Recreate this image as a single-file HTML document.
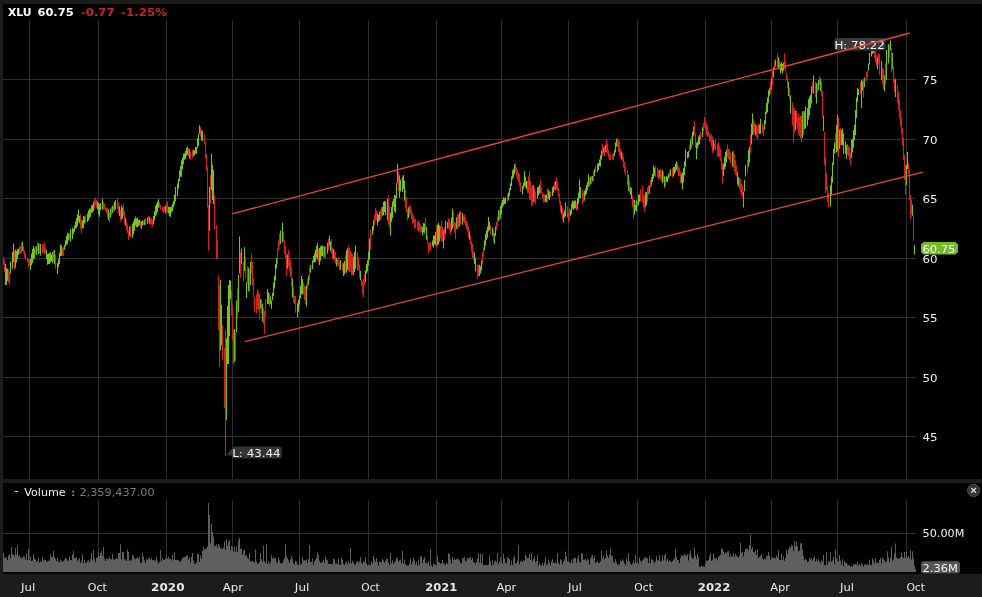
<!DOCTYPE html><html><head><meta charset="utf-8"><title>XLU</title><style>html,body{margin:0;padding:0;background:#1c1c1c;}body{width:982px;height:597px;overflow:hidden;}svg{display:block;font-family:"DejaVu Sans","Liberation Sans",sans-serif;}</style></head><body>
<svg width="982" height="597" viewBox="0 0 982 597">
<rect width="982" height="597" fill="#1c1c1c"/>
<rect x="3" y="4" width="979" height="475" fill="#000"/>
<rect x="3" y="483" width="979" height="91" fill="#000"/>
<path d="M3 79.5H916M3 139.5H916M3 198.5H916M3 258.5H916M3 317.5H916M3 377.5H916M3 436.5H916M29.5 20V479M98.5 20V479M166.5 20V479M232.5 20V479M299.5 20V479M368.5 20V479M436.5 20V479M501.5 20V479M568.5 20V479M637.5 20V479M705.5 20V479M771.5 20V479M837.5 20V479M906.5 20V479M3 533.5H916M29.5 500V572M98.5 500V572M166.5 500V572M232.5 500V572M299.5 500V572M368.5 500V572M436.5 500V572M501.5 500V572M568.5 500V572M637.5 500V572M705.5 500V572M771.5 500V572M837.5 500V572M906.5 500V572" stroke="#2e2e2e" stroke-width="1" fill="none"/>
<path d="M3 572L3 552.8L4 552.8L4 557.5L5 557.5L5 558.1L6 558.1L6 557.5L7 557.5L7 560.1L8 560.1L8 555.4L9 555.4L9 554.2L10 554.2L10 557.9L11 557.9L11 547.0L12 547.0L12 554.2L13 554.2L13 554.6L14 554.6L14 556.3L15 556.3L15 547.9L16 547.9L16 554.6L17 554.6L17 545.6L18 545.6L18 556.6L19 556.6L19 555.3L20 555.3L20 557.3L21 557.3L21 558.3L22 558.3L22 557.8L23 557.8L23 556.2L24 556.2L24 556.9L25 556.9L25 559.4L26 559.4L26 553.6L27 553.6L27 559.7L28 559.7L28 549.0L29 549.0L29 560.0L30 560.0L30 556.8L31 556.8L31 561.1L32 561.1L32 560.8L33 560.8L33 554.3L34 554.3L34 558.3L35 558.3L35 559.5L36 559.5L36 562.0L37 562.0L37 560.9L38 560.9L38 558.1L39 558.1L39 562.6L40 562.6L40 561.2L41 561.2L41 561.7L42 561.7L42 557.1L43 557.1L43 560.9L44 560.9L44 559.7L45 559.7L45 559.7L46 559.7L46 561.9L47 561.9L47 561.2L48 561.2L48 560.8L49 560.8L49 560.4L50 560.4L50 554.3L51 554.3L51 557.2L52 557.2L52 557.0L53 557.0L53 551.0L54 551.0L54 557.2L55 557.2L55 559.1L56 559.1L56 561.2L57 561.2L57 558.0L58 558.0L58 561.7L59 561.7L59 562.3L60 562.3L60 559.8L61 559.8L61 560.7L62 560.7L62 562.1L63 562.1L63 561.1L64 561.1L64 559.6L65 559.6L65 557.8L66 557.8L66 558.6L67 558.6L67 560.7L68 560.7L68 560.5L69 560.5L69 556.6L70 556.6L70 560.1L71 560.1L71 560.3L72 560.3L72 554.8L73 554.8L73 551.1L74 551.1L74 558.1L75 558.1L75 557.8L76 557.8L76 557.5L77 557.5L77 560.8L78 560.8L78 559.4L79 559.4L79 557.9L80 557.9L80 562.9L81 562.9L81 560.6L82 560.6L82 554.1L83 554.1L83 562.9L84 562.9L84 559.7L85 559.7L85 562.6L86 562.6L86 562.8L87 562.8L87 560.7L88 560.7L88 560.2L89 560.2L89 562.2L90 562.2L90 558.8L91 558.8L91 553.1L92 553.1L92 560.4L93 560.4L93 550.0L94 550.0L94 558.4L95 558.4L95 562.3L96 562.3L96 557.8L97 557.8L97 557.6L98 557.6L98 552.3L99 552.3L99 556.1L100 556.1L100 553.0L101 553.0L101 551.0L102 551.0L102 555.8L103 555.8L103 546.9L104 546.9L104 558.8L105 558.8L105 561.1L106 561.1L106 558.8L107 558.8L107 558.4L108 558.4L108 559.3L109 559.3L109 556.7L110 556.7L110 559.0L111 559.0L111 559.6L112 559.6L112 553.8L113 553.8L113 558.7L114 558.7L114 560.3L115 560.3L115 558.9L116 558.9L116 557.8L117 557.8L117 558.8L118 558.8L118 553.0L119 553.0L119 553.0L120 553.0L120 544.1L121 544.1L121 559.3L122 559.3L122 551.9L123 551.9L123 552.2L124 552.2L124 559.3L125 559.3L125 559.4L126 559.4L126 561.0L127 561.0L127 549.5L128 549.5L128 551.8L129 551.8L129 560.7L130 560.7L130 560.2L131 560.2L131 560.4L132 560.4L132 555.2L133 555.2L133 555.7L134 555.7L134 557.9L135 557.9L135 559.3L136 559.3L136 558.2L137 558.2L137 557.1L138 557.1L138 558.4L139 558.4L139 556.6L140 556.6L140 562.7L141 562.7L141 562.7L142 562.7L142 553.0L143 553.0L143 556.6L144 556.6L144 560.8L145 560.8L145 562.9L146 562.9L146 558.5L147 558.5L147 559.9L148 559.9L148 558.6L149 558.6L149 557.4L150 557.4L150 559.5L151 559.5L151 558.2L152 558.2L152 559.9L153 559.9L153 560.0L154 560.0L154 560.7L155 560.7L155 560.2L156 560.2L156 556.7L157 556.7L157 561.5L158 561.5L158 563.6L159 563.6L159 562.1L160 562.1L160 550.0L161 550.0L161 561.3L162 561.3L162 558.2L163 558.2L163 559.4L164 559.4L164 560.0L165 560.0L165 558.4L166 558.4L166 556.5L167 556.5L167 559.0L168 559.0L168 556.8L169 556.8L169 559.1L170 559.1L170 558.6L171 558.6L171 560.4L172 560.4L172 554.8L173 554.8L173 559.5L174 559.5L174 551.9L175 551.9L175 560.1L176 560.1L176 559.8L177 559.8L177 560.1L178 560.1L178 560.3L179 560.3L179 561.5L180 561.5L180 561.8L181 561.8L181 559.8L182 559.8L182 557.5L183 557.5L183 557.8L184 557.8L184 557.1L185 557.1L185 557.1L186 557.1L186 555.0L187 555.0L187 556.0L188 556.0L188 559.5L189 559.5L189 557.3L190 557.3L190 562.5L191 562.5L191 557.1L192 557.1L192 553.0L193 553.0L193 560.4L194 560.4L194 563.6L195 563.6L195 563.8L196 563.8L196 562.6L197 562.6L197 553.7L198 553.7L198 553.9L199 553.9L199 561.9L200 561.9L200 555.5L201 555.5L201 558.7L202 558.7L202 550.7L203 550.7L203 547.0L204 547.0L204 549.7L205 549.7L205 548.9L206 548.9L206 548.3L207 548.3L207 546.6L208 546.6L208 503.0L209 503.0L209 515.0L210 515.0L210 543.4L211 543.4L211 523.5L212 523.5L212 532.0L213 532.0L213 536.9L214 536.9L214 546.5L215 546.5L215 545.4L216 545.4L216 544.5L217 544.5L217 547.3L218 547.3L218 544.1L219 544.1L219 545.5L220 545.5L220 547.9L221 547.9L221 548.8L222 548.8L222 549.1L223 549.1L223 547.3L224 547.3L224 541.2L225 541.2L225 549.7L226 549.7L226 538.9L227 538.9L227 545.6L228 545.6L228 542.0L229 542.0L229 539.9L230 539.9L230 550.1L231 550.1L231 546.1L232 546.1L232 547.5L233 547.5L233 551.4L234 551.4L234 546.5L235 546.5L235 551.7L236 551.7L236 546.5L237 546.5L237 551.9L238 551.9L238 540.8L239 540.8L239 538.0L240 538.0L240 548.9L241 548.9L241 548.2L242 548.2L242 554.4L243 554.4L243 551.0L244 551.0L244 549.7L245 549.7L245 555.7L246 555.7L246 555.3L247 555.3L247 557.7L248 557.7L248 558.9L249 558.9L249 553.3L250 553.3L250 561.5L251 561.5L251 560.9L252 560.9L252 560.8L253 560.8L253 562.0L254 562.0L254 562.4L255 562.4L255 549.5L256 549.5L256 561.3L257 561.3L257 563.5L258 563.5L258 563.7L259 563.7L259 561.9L260 561.9L260 552.9L261 552.9L261 559.3L262 559.3L262 561.7L263 561.7L263 546.0L264 546.0L264 561.2L265 561.2L265 562.7L266 562.7L266 544.0L267 544.0L267 564.1L268 564.1L268 560.9L269 560.9L269 563.5L270 563.5L270 562.3L271 562.3L271 555.3L272 555.3L272 558.7L273 558.7L273 556.8L274 556.8L274 558.5L275 558.5L275 558.1L276 558.1L276 561.7L277 561.7L277 562.9L278 562.9L278 557.4L279 557.4L279 560.4L280 560.4L280 563.1L281 563.1L281 563.7L282 563.7L282 562.7L283 562.7L283 560.6L284 560.6L284 558.1L285 558.1L285 544.0L286 544.0L286 555.4L287 555.4L287 558.2L288 558.2L288 560.6L289 560.6L289 562.8L290 562.8L290 559.5L291 559.5L291 556.3L292 556.3L292 558.7L293 558.7L293 563.3L294 563.3L294 564.3L295 564.3L295 560.7L296 560.7L296 561.8L297 561.8L297 564.6L298 564.6L298 564.9L299 564.9L299 556.8L300 556.8L300 564.3L301 564.3L301 563.7L302 563.7L302 556.9L303 556.9L303 560.4L304 560.4L304 560.2L305 560.2L305 560.7L306 560.7L306 559.2L307 559.2L307 563.1L308 563.1L308 559.2L309 559.2L309 545.0L310 545.0L310 562.0L311 562.0L311 562.1L312 562.1L312 558.6L313 558.6L313 565.0L314 565.0L314 561.0L315 561.0L315 559.4L316 559.4L316 557.7L317 557.7L317 552.4L318 552.4L318 555.0L319 555.0L319 560.8L320 560.8L320 562.7L321 562.7L321 562.4L322 562.4L322 561.7L323 561.7L323 559.8L324 559.8L324 563.0L325 563.0L325 557.0L326 557.0L326 559.2L327 559.2L327 560.2L328 560.2L328 564.0L329 564.0L329 563.5L330 563.5L330 564.0L331 564.0L331 564.2L332 564.2L332 563.4L333 563.4L333 558.5L334 558.5L334 559.2L335 559.2L335 563.4L336 563.4L336 563.2L337 563.2L337 564.5L338 564.5L338 558.8L339 558.8L339 564.5L340 564.5L340 565.0L341 565.0L341 558.0L342 558.0L342 559.9L343 559.9L343 564.0L344 564.0L344 565.0L345 565.0L345 562.7L346 562.7L346 561.5L347 561.5L347 564.3L348 564.3L348 561.1L349 561.1L349 563.4L350 563.4L350 548.0L351 548.0L351 563.3L352 563.3L352 561.1L353 561.1L353 562.5L354 562.5L354 564.4L355 564.4L355 564.2L356 564.2L356 561.8L357 561.8L357 560.9L358 560.9L358 562.7L359 562.7L359 561.3L360 561.3L360 557.3L361 557.3L361 562.4L362 562.4L362 563.8L363 563.8L363 561.0L364 561.0L364 562.6L365 562.6L365 557.2L366 557.2L366 563.1L367 563.1L367 565.2L368 565.2L368 565.2L369 565.2L369 564.5L370 564.5L370 564.9L371 564.9L371 561.2L372 561.2L372 563.6L373 563.6L373 556.0L374 556.0L374 559.3L375 559.3L375 561.7L376 561.7L376 558.1L377 558.1L377 561.6L378 561.6L378 565.4L379 565.4L379 561.6L380 561.6L380 562.1L381 562.1L381 562.6L382 562.6L382 559.1L383 559.1L383 560.4L384 560.4L384 562.7L385 562.7L385 561.0L386 561.0L386 559.1L387 559.1L387 558.8L388 558.8L388 562.4L389 562.4L389 565.2L390 565.2L390 553.1L391 553.1L391 563.6L392 563.6L392 560.3L393 560.3L393 563.7L394 563.7L394 562.3L395 562.3L395 560.7L396 560.7L396 558.6L397 558.6L397 557.4L398 557.4L398 561.5L399 561.5L399 560.2L400 560.2L400 559.6L401 559.6L401 563.3L402 563.3L402 551.0L403 551.0L403 563.7L404 563.7L404 559.5L405 559.5L405 564.1L406 564.1L406 565.2L407 565.2L407 565.5L408 565.5L408 565.5L409 565.5L409 563.2L410 563.2L410 558.7L411 558.7L411 564.4L412 564.4L412 561.9L413 561.9L413 557.7L414 557.7L414 560.3L415 560.3L415 564.6L416 564.6L416 561.4L417 561.4L417 565.6L418 565.6L418 559.4L419 559.4L419 565.1L420 565.1L420 556.2L421 556.2L421 556.4L422 556.4L422 563.1L423 563.1L423 559.5L424 559.5L424 556.9L425 556.9L425 562.8L426 562.8L426 562.6L427 562.6L427 563.6L428 563.6L428 561.1L429 561.1L429 566.0L430 566.0L430 549.0L431 549.0L431 565.2L432 565.2L432 566.8L433 566.8L433 563.6L434 563.6L434 564.4L435 564.4L435 564.3L436 564.3L436 566.0L437 566.0L437 555.6L438 555.6L438 561.5L439 561.5L439 562.5L440 562.5L440 564.1L441 564.1L441 562.9L442 562.9L442 559.7L443 559.7L443 563.0L444 563.0L444 564.5L445 564.5L445 564.4L446 564.4L446 562.6L447 562.6L447 563.9L448 563.9L448 553.2L449 553.2L449 554.0L450 554.0L450 559.6L451 559.6L451 563.4L452 563.4L452 556.9L453 556.9L453 559.9L454 559.9L454 558.2L455 558.2L455 560.1L456 560.1L456 559.2L457 559.2L457 558.5L458 558.5L458 559.2L459 559.2L459 560.8L460 560.8L460 562.4L461 562.4L461 563.5L462 563.5L462 558.1L463 558.1L463 558.4L464 558.4L464 557.3L465 557.3L465 561.4L466 561.4L466 560.5L467 560.5L467 557.8L468 557.8L468 558.8L469 558.8L469 557.9L470 557.9L470 557.1L471 557.1L471 559.9L472 559.9L472 557.7L473 557.7L473 562.0L474 562.0L474 562.6L475 562.6L475 564.2L476 564.2L476 562.0L477 562.0L477 558.6L478 558.6L478 552.9L479 552.9L479 562.8L480 562.8L480 553.5L481 553.5L481 563.1L482 563.1L482 554.0L483 554.0L483 565.4L484 565.4L484 565.1L485 565.1L485 565.1L486 565.1L486 564.9L487 564.9L487 565.2L488 565.2L488 564.5L489 564.5L489 555.2L490 555.2L490 561.1L491 561.1L491 565.5L492 565.5L492 560.0L493 560.0L493 565.1L494 565.1L494 561.6L495 561.6L495 560.6L496 560.6L496 562.2L497 562.2L497 553.2L498 553.2L498 563.8L499 563.8L499 561.7L500 561.7L500 556.9L501 556.9L501 562.2L502 562.2L502 563.8L503 563.8L503 554.0L504 554.0L504 558.6L505 558.6L505 563.0L506 563.0L506 562.7L507 562.7L507 557.0L508 557.0L508 558.2L509 558.2L509 559.0L510 559.0L510 565.0L511 565.0L511 560.5L512 560.5L512 565.1L513 565.1L513 558.1L514 558.1L514 556.0L515 556.0L515 563.8L516 563.8L516 563.0L517 563.0L517 560.7L518 560.7L518 545.5L519 545.5L519 564.2L520 564.2L520 561.2L521 561.2L521 561.2L522 561.2L522 561.9L523 561.9L523 560.2L524 560.2L524 561.1L525 561.1L525 554.9L526 554.9L526 556.5L527 556.5L527 558.4L528 558.4L528 557.9L529 557.9L529 553.9L530 553.9L530 560.1L531 560.1L531 553.2L532 553.2L532 561.1L533 561.1L533 558.8L534 558.8L534 556.4L535 556.4L535 562.2L536 562.2L536 561.1L537 561.1L537 554.8L538 554.8L538 565.4L539 565.4L539 562.5L540 562.5L540 564.9L541 564.9L541 565.4L542 565.4L542 563.0L543 563.0L543 565.5L544 565.5L544 562.6L545 562.6L545 557.3L546 557.3L546 564.9L547 564.9L547 564.2L548 564.2L548 559.6L549 559.6L549 562.7L550 562.7L550 565.2L551 565.2L551 561.4L552 561.4L552 559.2L553 559.2L553 563.0L554 563.0L554 563.2L555 563.2L555 562.0L556 562.0L556 563.6L557 563.6L557 553.0L558 553.0L558 562.3L559 562.3L559 564.6L560 564.6L560 559.2L561 559.2L561 560.2L562 560.2L562 564.6L563 564.6L563 561.7L564 561.7L564 559.2L565 559.2L565 551.6L566 551.6L566 556.6L567 556.6L567 561.3L568 561.3L568 561.2L569 561.2L569 562.7L570 562.7L570 562.5L571 562.5L571 559.2L572 559.2L572 563.2L573 563.2L573 558.4L574 558.4L574 558.1L575 558.1L575 557.7L576 557.7L576 562.7L577 562.7L577 558.3L578 558.3L578 555.2L579 555.2L579 561.7L580 561.7L580 562.5L581 562.5L581 553.0L582 553.0L582 553.4L583 553.4L583 559.8L584 559.8L584 559.4L585 559.4L585 559.2L586 559.2L586 561.0L587 561.0L587 558.3L588 558.3L588 559.9L589 559.9L589 564.7L590 564.7L590 558.3L591 558.3L591 556.4L592 556.4L592 555.0L593 555.0L593 558.5L594 558.5L594 556.1L595 556.1L595 562.8L596 562.8L596 562.2L597 562.2L597 561.0L598 561.0L598 562.9L599 562.9L599 562.8L600 562.8L600 561.2L601 561.2L601 550.3L602 550.3L602 558.2L603 558.2L603 555.7L604 555.7L604 559.3L605 559.3L605 557.7L606 557.7L606 550.9L607 550.9L607 555.7L608 555.7L608 557.9L609 557.9L609 554.9L610 554.9L610 548.5L611 548.5L611 555.6L612 555.6L612 556.3L613 556.3L613 561.4L614 561.4L614 563.1L615 563.1L615 558.7L616 558.7L616 562.6L617 562.6L617 564.8L618 564.8L618 564.3L619 564.3L619 564.7L620 564.7L620 560.8L621 560.8L621 561.5L622 561.5L622 559.3L623 559.3L623 560.8L624 560.8L624 563.2L625 563.2L625 564.7L626 564.7L626 557.8L627 557.8L627 561.6L628 561.6L628 553.0L629 553.0L629 561.2L630 561.2L630 564.1L631 564.1L631 564.8L632 564.8L632 563.5L633 563.5L633 560.3L634 560.3L634 563.3L635 563.3L635 554.8L636 554.8L636 563.1L637 563.1L637 561.2L638 561.2L638 563.8L639 563.8L639 557.4L640 557.4L640 560.8L641 560.8L641 562.3L642 562.3L642 560.5L643 560.5L643 559.3L644 559.3L644 557.6L645 557.6L645 557.3L646 557.3L646 557.8L647 557.8L647 558.2L648 558.2L648 563.1L649 563.1L649 555.5L650 555.5L650 563.2L651 563.2L651 558.9L652 558.9L652 559.7L653 559.7L653 561.0L654 561.0L654 563.3L655 563.3L655 561.5L656 561.5L656 556.1L657 556.1L657 560.1L658 560.1L658 560.6L659 560.6L659 555.0L660 555.0L660 561.7L661 561.7L661 560.8L662 560.8L662 555.6L663 555.6L663 560.6L664 560.6L664 555.6L665 555.6L665 553.6L666 553.6L666 561.1L667 561.1L667 559.1L668 559.1L668 562.1L669 562.1L669 560.4L670 560.4L670 561.1L671 561.1L671 562.4L672 562.4L672 561.0L673 561.0L673 559.7L674 559.7L674 558.6L675 558.6L675 549.0L676 549.0L676 556.7L677 556.7L677 560.2L678 560.2L678 560.1L679 560.1L679 563.1L680 563.1L680 557.8L681 557.8L681 554.8L682 554.8L682 555.7L683 555.7L683 556.0L684 556.0L684 553.7L685 553.7L685 555.3L686 555.3L686 555.8L687 555.8L687 554.3L688 554.3L688 560.4L689 560.4L689 554.0L690 554.0L690 550.8L691 550.8L691 556.5L692 556.5L692 558.9L693 558.9L693 557.8L694 557.8L694 547.6L695 547.6L695 555.8L696 555.8L696 558.9L697 558.9L697 554.0L698 554.0L698 556.7L699 556.7L699 566.8L700 566.8L700 566.9L701 566.9L701 565.4L702 565.4L702 566.5L703 566.5L703 566.3L704 566.3L704 566.8L705 566.8L705 563.4L706 563.4L706 560.5L707 560.5L707 560.7L708 560.7L708 560.2L709 560.2L709 556.3L710 556.3L710 553.2L711 553.2L711 560.8L712 560.8L712 559.5L713 559.5L713 553.4L714 553.4L714 557.4L715 557.4L715 558.7L716 558.7L716 557.8L717 557.8L717 560.5L718 560.5L718 556.8L719 556.8L719 555.8L720 555.8L720 554.4L721 554.4L721 548.5L722 548.5L722 548.6L723 548.6L723 551.4L724 551.4L724 554.1L725 554.1L725 552.5L726 552.5L726 553.4L727 553.4L727 551.6L728 551.6L728 551.1L729 551.1L729 556.9L730 556.9L730 554.1L731 554.1L731 556.8L732 556.8L732 556.2L733 556.2L733 552.9L734 552.9L734 556.8L735 556.8L735 553.9L736 553.9L736 555.4L737 555.4L737 556.8L738 556.8L738 557.5L739 557.5L739 555.6L740 555.6L740 542.6L741 542.6L741 552.8L742 552.8L742 551.5L743 551.5L743 556.6L744 556.6L744 551.8L745 551.8L745 549.1L746 549.1L746 548.7L747 548.7L747 548.5L748 548.5L748 550.5L749 550.5L749 545.0L750 545.0L750 534.7L751 534.7L751 549.2L752 549.2L752 547.0L753 547.0L753 552.1L754 552.1L754 552.5L755 552.5L755 549.8L756 549.8L756 554.9L757 554.9L757 549.6L758 549.6L758 558.0L759 558.0L759 556.8L760 556.8L760 555.7L761 555.7L761 554.1L762 554.1L762 558.3L763 558.3L763 559.5L764 559.5L764 558.4L765 558.4L765 559.6L766 559.6L766 555.5L767 555.5L767 556.2L768 556.2L768 552.0L769 552.0L769 556.0L770 556.0L770 559.6L771 559.6L771 558.2L772 558.2L772 557.4L773 557.4L773 557.6L774 557.6L774 558.1L775 558.1L775 558.5L776 558.5L776 555.6L777 555.6L777 557.6L778 557.6L778 550.2L779 550.2L779 560.0L780 560.0L780 560.0L781 560.0L781 553.6L782 553.6L782 560.3L783 560.3L783 556.5L784 556.5L784 560.7L785 560.7L785 557.8L786 557.8L786 549.4L787 549.4L787 553.5L788 553.5L788 549.7L789 549.7L789 546.7L790 546.7L790 547.6L791 547.6L791 544.7L792 544.7L792 545.5L793 545.5L793 551.1L794 551.1L794 540.8L795 540.8L795 546.0L796 546.0L796 541.5L797 541.5L797 546.2L798 546.2L798 551.2L799 551.2L799 550.6L800 550.6L800 543.3L801 543.3L801 543.5L802 543.5L802 549.6L803 549.6L803 556.3L804 556.3L804 560.2L805 560.2L805 559.0L806 559.0L806 559.7L807 559.7L807 562.2L808 562.2L808 561.9L809 561.9L809 557.5L810 557.5L810 559.5L811 559.5L811 558.3L812 558.3L812 560.8L813 560.8L813 558.3L814 558.3L814 556.1L815 556.1L815 561.6L816 561.6L816 558.9L817 558.9L817 561.2L818 561.2L818 559.1L819 559.1L819 561.2L820 561.2L820 563.2L821 563.2L821 560.2L822 560.2L822 561.6L823 561.6L823 554.9L824 554.9L824 565.3L825 565.3L825 565.2L826 565.2L826 552.1L827 552.1L827 564.8L828 564.8L828 560.7L829 560.7L829 561.7L830 561.7L830 552.5L831 552.5L831 561.7L832 561.7L832 560.4L833 560.4L833 556.9L834 556.9L834 563.8L835 563.8L835 549.6L836 549.6L836 558.5L837 558.5L837 561.6L838 561.6L838 561.5L839 561.5L839 555.1L840 555.1L840 560.4L841 560.4L841 564.6L842 564.6L842 559.2L843 559.2L843 566.3L844 566.3L844 561.1L845 561.1L845 563.0L846 563.0L846 562.8L847 562.8L847 564.8L848 564.8L848 565.3L849 565.3L849 565.4L850 565.4L850 566.6L851 566.6L851 565.9L852 565.9L852 566.8L853 566.8L853 564.2L854 564.2L854 564.6L855 564.6L855 564.1L856 564.1L856 564.8L857 564.8L857 562.3L858 562.3L858 565.5L859 565.5L859 563.8L860 563.8L860 565.8L861 565.8L861 563.2L862 563.2L862 564.8L863 564.8L863 566.7L864 566.7L864 564.5L865 564.5L865 564.0L866 564.0L866 565.0L867 565.0L867 564.3L868 564.3L868 565.0L869 565.0L869 559.5L870 559.5L870 564.7L871 564.7L871 564.8L872 564.8L872 558.6L873 558.6L873 560.4L874 560.4L874 563.4L875 563.4L875 558.3L876 558.3L876 562.5L877 562.5L877 562.4L878 562.4L878 563.2L879 563.2L879 560.0L880 560.0L880 557.8L881 557.8L881 563.5L882 563.5L882 557.6L883 557.6L883 558.9L884 558.9L884 560.5L885 560.5L885 562.3L886 562.3L886 561.3L887 561.3L887 551.3L888 551.3L888 557.3L889 557.3L889 562.0L890 562.0L890 557.6L891 557.6L891 546.5L892 546.5L892 560.8L893 560.8L893 559.2L894 559.2L894 553.6L895 553.6L895 543.6L896 543.6L896 557.3L897 557.3L897 558.5L898 558.5L898 558.6L899 558.6L899 558.6L900 558.6L900 556.9L901 556.9L901 552.8L902 552.8L902 557.0L903 557.0L903 558.0L904 558.0L904 551.9L905 551.9L905 557.5L906 557.5L906 551.4L907 551.4L907 557.6L908 557.6L908 556.3L909 556.3L909 558.6L910 558.6L910 550.0L911 550.0L911 559.5L912 559.5L912 551.3L913 551.3L913 558.3L914 558.3L914 566.0L915 566.0L915 569.0L916 569.0L916 572Z" fill="#5f5f5f"/>
<path d="M5.50 263.9V285.0M6.50 267.7V284.8M7.50 269.0V280.8M10.50 261.3V273.4M12.50 252.1V268.8M13.50 243.5V262.1M15.50 249.5V267.8M16.50 251.1V262.6M17.50 249.0V259.0M18.50 248.4V254.8M22.50 241.7V251.0M30.50 258.7V270.0M31.50 253.6V265.3M32.50 248.9V262.9M33.50 246.0V259.6M34.50 248.4V258.6M36.50 246.4V254.9M38.50 243.3V254.2M40.50 244.0V255.5M46.50 250.0V259.1M47.50 254.1V264.7M48.50 253.8V264.1M49.50 252.9V263.9M50.50 252.5V262.5M51.50 254.6V261.2M52.50 251.9V263.1M54.50 250.0V264.3M57.50 263.0V274.0M58.50 259.2V267.1M59.50 252.8V264.1M60.50 244.5V256.2M61.50 245.5V255.9M64.50 245.1V249.9M65.50 240.2V246.3M66.50 235.8V244.8M67.50 232.8V244.2M68.50 233.5V240.4M70.50 229.1V241.7M72.50 227.6V239.0M73.50 229.0V234.1M74.50 225.6V231.7M75.50 221.6V228.6M76.50 218.0V228.1M77.50 214.4V226.1M78.50 209.5V221.5M79.50 215.9V223.2M82.50 220.2V228.5M83.50 216.1V228.0M84.50 216.5V223.5M87.50 213.5V222.0M88.50 210.4V220.4M89.50 208.4V218.2M90.50 208.8V216.7M91.50 205.2V212.7M92.50 204.8V212.4M93.50 201.7V211.4M97.50 201.4V209.2M98.50 202.9V214.4M99.50 204.2V216.8M100.50 203.0V209.9M102.50 199.0V209.7M108.50 209.3V219.9M110.50 208.5V217.4M112.50 205.8V213.0M114.50 201.7V210.7M115.50 200.2V209.2M119.50 206.3V216.1M121.50 205.3V219.4M122.50 207.6V218.7M125.50 217.7V225.9M129.50 226.4V236.2M132.50 223.7V238.0M133.50 221.5V234.5M134.50 218.9V230.7M135.50 216.8V225.4M136.50 218.5V227.3M137.50 217.6V227.1M138.50 219.9V226.3M139.50 219.4V225.3M141.50 221.3V228.7M142.50 220.6V225.2M144.50 219.6V225.1M147.50 217.4V224.0M149.50 216.8V223.7M153.50 215.9V224.2M154.50 211.3V220.2M155.50 205.8V216.4M156.50 203.4V214.7M157.50 201.4V212.0M158.50 199.3V207.8M165.50 205.5V213.5M168.50 206.7V213.6M169.50 206.8V216.2M170.50 207.2V216.8M171.50 206.4V212.2M172.50 203.8V211.3M173.50 200.8V207.3M174.50 194.7V204.8M175.50 186.9V201.2M177.50 183.4V196.2M178.50 179.1V188.6M179.50 170.5V181.5M180.50 166.1V176.7M181.50 160.3V176.8M182.50 157.6V169.1M183.50 153.7V164.0M184.50 153.3V159.8M185.50 150.9V159.0M186.50 148.0V155.9M187.50 146.4V154.8M189.50 149.2V158.6M193.50 149.9V156.3M194.50 150.5V155.3M195.50 146.9V153.5M196.50 147.0V154.0M197.50 138.0V148.0M198.50 134.0V146.0M199.50 125.3V134.0M201.50 130.0V140.5M202.50 131.0V141.0M209.50 186.8V230.8M211.50 153.5V190.0M212.50 165.0V200.0M213.50 170.0V204.0M220.50 280.0V350.2M221.50 305.0V345.0M226.50 338.5V420.2M227.50 306.0V364.0M228.50 285.0V364.3M229.50 280.0V336.0M230.50 280.5V299.0M234.50 329.0V362.0M236.50 300.5V332.6M238.50 274.6V312.0M239.50 236.6V273.5M241.50 248.4V264.0M244.50 247.2V271.0M246.50 281.7V298.0M248.50 267.6V291.0M250.50 262.0V285.0M260.50 298.9V308.8M262.50 303.7V321.7M267.50 289.0V304.0M268.50 292.3V304.1M270.50 296.4V304.2M271.50 300.6V308.7M272.50 293.1V300.1M273.50 282.6V296.1M274.50 275.8V288.6M275.50 264.0V280.5M276.50 257.7V268.4M280.50 230.5V244.1M282.50 222.6V242.2M287.50 254.7V268.7M292.50 278.7V297.6M297.50 303.3V317.4M298.50 299.8V311.7M299.50 295.4V304.8M300.50 285.8V298.6M301.50 276.0V294.5M302.50 279.1V294.2M306.50 285.3V306.5M308.50 275.5V285.1M310.50 264.9V272.4M312.50 260.6V269.0M313.50 256.0V262.6M314.50 253.3V262.3M315.50 250.0V262.1M316.50 246.0V257.8M317.50 243.0V259.8M319.50 248.1V265.0M320.50 246.4V260.7M321.50 245.5V256.4M322.50 245.9V256.1M324.50 246.4V256.7M327.50 242.7V253.8M329.50 235.7V245.6M330.50 241.4V250.9M333.50 248.9V259.3M336.50 257.7V266.5M340.50 260.3V270.1M343.50 263.3V276.0M344.50 261.1V274.4M346.50 250.5V273.0M347.50 248.3V270.1M353.50 256.8V275.6M354.50 251.7V271.9M355.50 245.5V268.7M360.50 270.7V280.3M365.50 270.5V281.9M366.50 264.0V273.7M367.50 260.3V271.4M368.50 251.8V265.6M369.50 238.4V259.7M372.50 226.0V234.7M373.50 220.2V230.5M377.50 213.4V225.4M378.50 215.0V222.0M379.50 211.7V220.4M382.50 207.0V215.4M383.50 201.8V215.5M384.50 200.9V211.9M385.50 201.6V215.6M387.50 198.9V220.3M390.50 213.1V235.4M391.50 207.1V221.7M392.50 201.4V218.3M393.50 199.0V207.1M394.50 195.1V211.3M395.50 195.6V212.8M396.50 183.3V198.0M397.50 163.8V183.3M399.50 175.6V197.7M400.50 179.5V191.6M402.50 176.7V191.9M403.50 175.0V188.9M404.50 180.8V200.7M408.50 207.3V218.2M422.50 227.3V235.4M423.50 223.1V232.6M424.50 223.6V233.3M426.50 226.8V239.8M432.50 240.5V245.9M433.50 235.5V247.8M434.50 235.4V244.2M435.50 232.0V245.0M437.50 224.7V245.4M438.50 222.9V244.6M439.50 225.4V241.6M443.50 229.9V248.6M445.50 220.7V234.3M447.50 221.9V228.4M451.50 217.5V231.6M452.50 208.7V228.7M456.50 217.3V229.3M459.50 212.6V226.5M462.50 213.0V224.7M469.50 231.3V239.7M474.50 252.7V264.1M475.50 258.0V271.2M479.50 264.7V276.1M480.50 266.3V273.5M481.50 260.2V270.3M484.50 240.2V250.6M485.50 234.1V245.7M486.50 230.3V240.0M487.50 226.4V237.8M488.50 217.0V231.5M489.50 221.8V229.9M492.50 227.7V236.0M494.50 232.9V244.0M495.50 226.5V235.7M498.50 210.3V221.1M500.50 205.9V218.7M501.50 203.1V214.6M502.50 199.9V207.4M503.50 197.2V205.6M504.50 198.5V204.1M505.50 197.3V203.8M508.50 192.6V200.3M509.50 188.1V195.9M510.50 183.3V190.3M511.50 176.3V186.0M512.50 170.5V179.2M513.50 168.9V177.2M514.50 164.2V173.9M522.50 186.1V194.6M523.50 182.7V188.8M524.50 171.1V186.1M525.50 176.7V187.2M526.50 181.0V189.2M533.50 185.3V202.0M537.50 187.5V198.5M538.50 186.8V195.4M539.50 184.8V193.5M545.50 194.7V202.5M546.50 194.5V202.1M548.50 190.0V198.7M549.50 191.6V200.0M552.50 187.2V195.9M553.50 185.8V192.7M555.50 180.9V190.0M561.50 205.4V213.9M563.50 213.0V222.6M564.50 210.6V217.6M565.50 202.5V216.4M570.50 209.7V215.7M571.50 203.9V214.2M572.50 200.5V208.8M573.50 201.4V209.8M574.50 200.5V208.6M575.50 200.5V208.2M577.50 197.7V209.0M578.50 192.6V203.4M579.50 179.4V198.2M580.50 186.9V198.3M584.50 190.8V200.7M585.50 188.5V195.8M586.50 185.0V193.9M587.50 182.0V190.4M588.50 174.3V186.2M590.50 176.8V184.4M592.50 175.9V181.2M594.50 169.1V176.0M597.50 163.4V172.2M598.50 163.2V170.0M599.50 159.5V165.9M600.50 155.3V166.6M601.50 150.6V159.6M603.50 147.7V153.4M605.50 145.1V151.9M614.50 150.1V156.1M615.50 142.4V152.5M616.50 138.8V146.7M621.50 151.4V159.6M628.50 175.0V190.9M630.50 187.1V194.7M631.50 187.9V198.9M634.50 200.1V214.7M635.50 204.7V210.4M636.50 200.3V211.7M638.50 195.1V205.1M639.50 194.2V201.7M645.50 192.5V207.3M646.50 191.9V204.9M649.50 185.6V193.7M651.50 177.3V185.8M652.50 173.9V181.8M653.50 165.4V178.4M654.50 167.7V175.7M659.50 170.1V176.8M662.50 169.4V183.2M664.50 176.2V187.5M666.50 176.0V181.9M667.50 177.0V182.0M668.50 173.8V178.8M670.50 169.1V176.1M673.50 166.9V176.5M674.50 167.1V174.3M675.50 163.8V171.9M676.50 161.3V170.0M681.50 173.9V183.3M682.50 172.2V189.5M683.50 168.0V182.3M684.50 161.3V174.9M685.50 149.3V166.8M687.50 152.1V158.3M688.50 151.0V157.4M690.50 139.6V150.0M692.50 131.7V144.7M693.50 126.4V136.5M696.50 142.8V159.3M697.50 141.6V148.6M698.50 136.6V145.2M699.50 134.9V144.2M702.50 127.2V136.9M713.50 140.0V150.6M723.50 163.6V175.9M724.50 157.0V169.5M725.50 152.0V167.1M726.50 149.7V162.4M732.50 151.5V166.6M737.50 172.2V184.4M738.50 176.9V186.6M743.50 191.4V207.4M744.50 179.9V191.3M745.50 164.9V176.6M748.50 150.0V166.8M749.50 146.9V162.4M751.50 123.6V144.2M752.50 113.4V135.1M755.50 124.4V135.4M759.50 124.4V134.1M760.50 119.0V133.7M764.50 120.2V129.8M765.50 111.5V124.0M766.50 103.1V114.0M767.50 97.4V112.0M768.50 90.3V103.3M769.50 87.8V95.5M771.50 78.3V89.9M773.50 67.0V77.4M775.50 59.6V66.5M778.50 57.3V69.3M780.50 63.6V73.5M781.50 61.8V70.7M782.50 63.9V73.5M783.50 62.4V70.5M788.50 81.4V96.0M790.50 95.2V113.4M795.50 111.0V130.3M802.50 111.3V137.9M804.50 111.3V129.3M805.50 106.5V128.6M807.50 107.9V125.7M808.50 99.2V119.4M809.50 96.4V115.4M810.50 94.8V108.0M811.50 86.2V103.4M813.50 75.3V93.4M816.50 83.0V103.4M818.50 80.0V90.0M820.50 78.2V91.0M823.50 115.7V131.0M830.50 185.3V206.6M831.50 176.5V195.3M832.50 162.6V182.7M833.50 148.8V165.0M834.50 142.5V153.8M836.50 125.0V152.6M837.50 115.0V151.3M839.50 129.8V148.8M841.50 130.0V145.0M842.50 128.6V145.0M843.50 133.3V153.8M845.50 141.3V153.8M846.50 145.0V158.9M851.50 140.0V158.0M852.50 138.8V152.6M853.50 130.0V147.6M854.50 125.0V140.0M855.50 110.0V135.0M856.50 97.4V118.0M857.50 88.0V102.0M858.50 89.0V95.0M861.50 79.9V108.0M862.50 81.0V90.4M864.50 77.5V87.0M868.50 63.4V70.5M869.50 52.9V64.6M871.50 51.1V56.4M872.50 51.1V54.0M873.50 51.1V53.0M877.50 57.6V69.3M881.50 61.0V79.9M884.50 75.2V91.6M886.50 50.0V79.9M888.50 44.0V63.4M890.50 40.5V50.0M892.50 53.0V69.2M895.50 79.2V97.0M906.50 165.0V185.0M907.50 152.0V169.0M912.50 204.8V215.7M914.50 245.0V254.4" stroke="#74c41e" stroke-width="1.1" fill="none"/>
<path d="M3.50 256.9V264.8M4.50 260.2V271.8M8.50 269.3V282.3M9.50 272.1V285.0M14.50 251.2V270.0M19.50 246.5V254.3M20.50 246.0V253.9M21.50 243.1V252.4M23.50 246.4V252.6M24.50 250.6V257.4M25.50 253.2V260.0M27.50 257.5V262.2M28.50 259.0V267.1M29.50 259.4V265.3M35.50 245.9V253.8M37.50 242.6V251.1M39.50 243.8V253.8M42.50 244.1V253.1M43.50 245.0V252.8M44.50 242.6V253.7M45.50 248.3V254.1M53.50 251.0V261.6M55.50 254.7V268.7M62.50 248.0V255.2M63.50 247.0V256.0M69.50 233.3V239.2M80.50 214.4V228.8M81.50 219.9V233.4M85.50 215.1V222.8M94.50 199.3V208.8M95.50 197.5V205.2M96.50 199.9V207.9M103.50 202.1V209.6M104.50 203.5V209.5M105.50 207.0V211.2M106.50 207.8V213.1M107.50 208.1V217.8M109.50 211.7V222.0M111.50 207.1V215.1M113.50 204.6V210.8M117.50 198.0V209.1M118.50 202.6V213.4M120.50 210.2V221.0M123.50 203.7V215.8M124.50 211.1V223.7M126.50 221.4V230.4M127.50 224.9V233.1M128.50 230.6V240.0M130.50 225.6V237.0M140.50 220.9V227.3M143.50 220.8V225.2M145.50 218.2V224.8M148.50 215.7V221.6M150.50 218.0V225.0M151.50 218.4V223.9M152.50 220.0V227.6M159.50 202.3V207.4M160.50 204.7V209.7M162.50 206.9V211.6M163.50 206.5V212.7M164.50 206.5V211.8M166.50 203.5V211.4M167.50 201.5V213.1M188.50 148.5V155.9M190.50 151.9V160.0M192.50 149.5V158.0M200.50 127.0V136.4M204.50 134.7V144.6M205.50 142.3V158.7M206.50 154.0V170.5M207.50 167.0V207.3M208.50 205.0V250.7M210.50 175.0V203.0M214.50 195.6V229.6M216.50 225.0V258.8M217.50 240.0V259.0M218.50 275.2V330.3M219.50 285.0V366.6M222.50 325.0V360.0M224.50 347.9V408.0M225.50 330.0V455.7M231.50 290.0V315.7M232.50 305.0V340.0M233.50 330.3V364.3M235.50 332.6V360.8M237.50 288.7V318.0M240.50 252.3V278.0M243.50 261.7V281.7M245.50 257.0V278.0M247.50 266.4V283.0M249.50 270.0V292.0M251.50 253.5V273.5M252.50 262.0V285.0M253.50 278.0V297.0M254.50 297.0V312.0M256.50 294.2V313.5M257.50 289.0V309.1M258.50 292.1V309.2M259.50 294.1V319.6M261.50 300.1V313.4M263.50 308.3V323.9M264.50 311.2V333.7M265.50 299.3V317.0M269.50 293.4V306.5M277.50 248.4V263.8M278.50 240.1V250.5M279.50 233.4V246.0M283.50 231.8V242.3M284.50 240.2V253.7M285.50 245.7V258.6M286.50 253.6V276.0M288.50 250.0V266.8M289.50 257.6V270.3M290.50 260.2V276.8M291.50 267.7V286.4M293.50 287.3V302.8M294.50 295.5V303.9M295.50 296.0V312.8M303.50 283.1V294.4M304.50 285.9V300.1M305.50 286.9V304.0M307.50 278.7V288.9M309.50 268.0V280.3M318.50 249.1V262.2M323.50 245.5V258.6M325.50 246.2V258.6M328.50 238.8V250.6M331.50 239.2V254.1M332.50 247.6V258.5M334.50 250.7V261.2M335.50 252.2V263.4M337.50 259.1V264.7M338.50 257.1V266.5M339.50 261.9V269.4M342.50 262.6V271.3M345.50 255.5V272.2M348.50 245.5V270.8M349.50 248.2V272.0M350.50 250.9V271.8M351.50 252.8V275.6M352.50 254.1V274.8M357.50 252.3V270.2M358.50 256.7V270.2M359.50 264.8V277.9M361.50 279.4V286.3M362.50 281.2V294.2M363.50 278.7V297.0M364.50 274.0V285.3M370.50 230.1V249.5M374.50 214.2V225.1M375.50 207.8V221.0M376.50 210.5V220.0M380.50 209.9V219.9M381.50 206.9V216.7M388.50 195.2V224.8M389.50 206.6V227.7M398.50 172.0V190.2M405.50 189.7V208.6M406.50 197.0V212.4M407.50 209.1V220.4M409.50 206.0V215.8M410.50 205.3V214.1M411.50 208.8V219.2M412.50 213.6V223.4M413.50 215.2V223.0M414.50 218.8V228.8M415.50 218.5V227.9M417.50 221.3V230.4M418.50 220.5V231.6M419.50 222.6V230.7M420.50 225.6V232.5M421.50 225.8V231.9M425.50 217.8V230.1M427.50 235.8V243.5M428.50 242.8V253.0M429.50 242.4V249.6M430.50 242.3V250.5M436.50 225.3V248.0M440.50 226.1V238.3M441.50 220.4V241.2M442.50 227.1V241.8M444.50 227.5V240.1M448.50 218.0V228.5M449.50 219.4V230.2M450.50 223.3V234.5M453.50 212.4V226.4M454.50 222.2V232.8M455.50 222.9V239.2M457.50 213.9V228.8M458.50 214.6V227.6M460.50 211.0V224.2M463.50 215.6V221.7M464.50 214.4V223.2M465.50 216.8V226.2M466.50 220.8V229.1M467.50 222.7V231.6M468.50 226.5V237.5M470.50 235.7V244.5M471.50 241.8V251.8M472.50 243.7V257.8M473.50 251.2V260.0M477.50 264.2V279.0M478.50 265.4V276.1M482.50 251.9V264.4M483.50 247.0V256.8M490.50 225.4V234.2M493.50 230.0V241.9M496.50 221.7V230.0M497.50 216.6V226.6M499.50 209.9V220.7M507.50 194.3V201.6M515.50 163.0V171.5M516.50 166.9V176.8M517.50 170.6V179.6M518.50 172.7V182.1M519.50 174.2V186.4M520.50 182.1V192.0M527.50 181.0V193.0M528.50 176.4V193.2M529.50 171.1V199.7M530.50 180.7V200.0M531.50 187.6V206.3M532.50 184.9V204.7M534.50 188.4V201.8M535.50 191.5V204.0M540.50 179.4V193.2M541.50 187.5V193.5M542.50 192.2V198.1M543.50 194.0V202.5M544.50 194.5V201.8M547.50 188.4V202.5M550.50 191.5V196.9M554.50 182.2V190.2M556.50 177.3V189.0M557.50 181.6V191.2M558.50 187.5V196.6M559.50 194.0V203.5M560.50 201.1V211.7M562.50 208.0V219.7M567.50 206.0V217.8M568.50 212.2V222.6M569.50 208.6V220.4M576.50 202.6V210.5M582.50 190.0V204.5M583.50 192.4V202.1M589.50 177.6V186.9M591.50 175.9V184.1M593.50 170.6V181.4M595.50 165.4V172.1M602.50 144.0V155.9M604.50 146.3V156.2M606.50 139.0V152.4M607.50 143.6V153.4M608.50 149.4V157.1M609.50 153.4V159.8M610.50 155.0V160.2M612.50 153.7V158.7M613.50 152.9V160.2M617.50 138.0V146.8M618.50 139.6V152.0M619.50 141.7V156.1M620.50 148.6V158.1M622.50 152.7V161.4M623.50 156.7V167.4M624.50 161.7V172.3M625.50 166.4V175.4M627.50 170.0V185.2M629.50 181.3V192.0M632.50 195.4V207.0M633.50 198.9V218.6M637.50 201.2V206.9M640.50 189.1V201.3M642.50 185.5V202.5M643.50 194.2V207.4M644.50 196.0V211.6M647.50 187.4V201.6M648.50 185.3V194.5M650.50 179.9V187.4M655.50 165.4V176.8M657.50 167.4V177.6M658.50 170.0V179.4M660.50 169.4V179.5M661.50 171.6V181.2M663.50 171.9V181.5M665.50 177.3V186.0M669.50 170.8V177.4M672.50 168.0V177.4M677.50 162.5V171.4M678.50 166.2V175.9M679.50 168.0V176.3M680.50 171.6V182.8M689.50 144.6V152.3M691.50 136.3V148.4M694.50 121.0V134.3M695.50 133.4V147.4M700.50 131.5V140.2M703.50 122.9V131.3M704.50 117.0V127.5M705.50 120.2V129.8M706.50 124.1V135.2M707.50 125.7V136.7M708.50 131.3V136.5M709.50 133.1V142.3M710.50 135.4V141.8M711.50 134.1V147.1M712.50 136.6V153.3M714.50 143.6V148.4M715.50 139.2V150.5M717.50 144.1V156.8M718.50 141.7V156.7M719.50 146.0V157.0M720.50 148.7V161.0M721.50 158.5V169.7M722.50 163.2V183.5M727.50 144.7V157.2M728.50 149.0V159.0M729.50 149.4V160.4M730.50 152.4V162.9M733.50 150.4V168.1M734.50 153.8V171.7M735.50 159.9V174.8M736.50 165.4V176.5M739.50 178.0V189.5M740.50 179.2V192.6M741.50 184.0V195.0M742.50 185.3V197.4M747.50 160.1V173.4M750.50 134.5V152.7M753.50 119.3V135.1M754.50 122.0V133.1M756.50 124.7V137.6M757.50 126.8V139.0M758.50 123.5V133.3M762.50 123.8V133.3M763.50 126.7V136.2M770.50 82.0V93.5M772.50 71.3V84.9M774.50 60.7V70.1M777.50 53.5V67.1M779.50 60.0V69.7M784.50 53.5V69.0M785.50 61.0V73.0M786.50 72.9V80.2M787.50 77.2V88.5M789.50 87.7V99.4M792.50 102.6V125.4M793.50 107.8V141.9M794.50 108.8V132.8M796.50 110.8V123.5M797.50 116.9V129.5M798.50 113.7V134.5M799.50 117.3V136.1M800.50 115.9V138.2M801.50 115.8V141.9M803.50 111.2V135.2M812.50 81.7V93.4M815.50 81.7V97.0M817.50 84.0V92.0M819.50 76.4V85.2M821.50 81.7V95.8M822.50 91.0V116.9M824.50 132.0V165.0M825.50 157.6V192.8M826.50 172.7V190.3M827.50 186.5V201.6M828.50 192.8V207.2M835.50 133.3V148.8M838.50 118.0V156.4M840.50 128.0V145.0M847.50 143.8V155.0M848.50 146.3V156.4M849.50 147.6V160.0M850.50 152.6V165.0M860.50 82.2V94.0M863.50 78.7V97.4M866.50 71.7V81.0M867.50 70.5V77.5M874.50 50.5V58.0M875.50 51.0V62.3M876.50 55.2V65.8M878.50 54.0V63.4M879.50 54.0V75.2M882.50 68.1V84.5M883.50 69.3V89.2M885.50 63.4V84.5M889.50 45.0V58.0M891.50 48.0V72.2M893.50 67.2V83.3M894.50 78.2V92.0M897.50 85.0V103.0M898.50 92.0V110.0M899.50 100.0V118.0M900.50 110.0V126.0M901.50 118.0V134.0M902.50 128.0V146.0M903.50 138.0V157.0M903.50 145.0V160.0M904.50 155.0V180.0M905.50 165.0V194.8M908.50 163.0V174.0M909.50 170.0V200.0M910.50 195.0V219.0M911.50 200.0V214.0M913.50 214.6V240.8" stroke="#d8201e" stroke-width="1.1" fill="none"/>
<rect x="834.5" y="38" width="51" height="12.5" rx="2.5" fill="#3a3a3a"/>
<text x="834.43" y="49.00" font-size="11" fill="#f0f0f0" textLength="50.31" lengthAdjust="spacingAndGlyphs">H: 78.22</text>
<path d="M226.3 455.4L232.8 447.3V455.4Z" fill="#333"/>
<rect x="232.5" y="446.4" width="49.3" height="12.2" rx="2.5" fill="#333"/>
<text x="232.22" y="457.00" font-size="11" fill="#f0f0f0" textLength="48.48" lengthAdjust="spacingAndGlyphs">L: 43.44</text>
<path d="M232.1 213.9L909.8 33M244.7 341.7L922.9 172.2" stroke="#ea4434" stroke-width="1.3" fill="none"/>
<text x="922.42" y="83.70" font-size="11" fill="#f0f0f0" textLength="15.05" lengthAdjust="spacingAndGlyphs">75</text>
<text x="922.42" y="143.70" font-size="11" fill="#f0f0f0" textLength="15.05" lengthAdjust="spacingAndGlyphs">70</text>
<text x="922.42" y="202.70" font-size="11" fill="#f0f0f0" textLength="15.05" lengthAdjust="spacingAndGlyphs">65</text>
<text x="922.42" y="262.70" font-size="11" fill="#f0f0f0" textLength="15.05" lengthAdjust="spacingAndGlyphs">60</text>
<text x="922.42" y="321.70" font-size="11" fill="#f0f0f0" textLength="15.05" lengthAdjust="spacingAndGlyphs">55</text>
<text x="922.42" y="381.70" font-size="11" fill="#f0f0f0" textLength="15.05" lengthAdjust="spacingAndGlyphs">50</text>
<text x="922.42" y="440.70" font-size="11" fill="#f0f0f0" textLength="15.05" lengthAdjust="spacingAndGlyphs">45</text>
<path d="M923.5 242H955.5L958 244.5V252.1L955.5 254.6H923.5L921 252.1V244.5Z" fill="#72bd27"/>
<text x="922.45" y="253.00" font-size="11" fill="#ffffff" textLength="32.97" lengthAdjust="spacingAndGlyphs">60.75</text>
<text x="8.00" y="16.00" font-size="11" font-weight="bold" fill="#ffffff" textLength="23.51" lengthAdjust="spacingAndGlyphs">XLU</text>
<text x="37.46" y="16.00" font-size="11" font-weight="bold" fill="#ffffff" textLength="36.17" lengthAdjust="spacingAndGlyphs">60.75</text>
<text x="81.00" y="16.00" font-size="11" font-weight="bold" fill="#cc2222" textLength="33.56" lengthAdjust="spacingAndGlyphs">-0.77</text>
<text x="121.10" y="16.00" font-size="11" font-weight="bold" fill="#cc2222" textLength="46.11" lengthAdjust="spacingAndGlyphs">-1.25%</text>
<rect x="0" y="479" width="982" height="4" fill="#1c1c1c"/>
<text x="13.90" y="494.30" font-size="11" fill="#f0f0f0" textLength="4.78" lengthAdjust="spacingAndGlyphs">-</text>
<text x="24.20" y="496.00" font-size="11" fill="#f0f0f0" textLength="41.52" lengthAdjust="spacingAndGlyphs">Volume</text>
<text x="71.20" y="496.00" font-size="11" fill="#f0f0f0" textLength="3.72" lengthAdjust="spacingAndGlyphs">:</text>
<text x="79.48" y="496.00" font-size="11" fill="#7a7a7a" textLength="75.11" lengthAdjust="spacingAndGlyphs">2,359,437.00</text>
<text x="922.58" y="537.00" font-size="11" fill="#f0f0f0" textLength="41.72" lengthAdjust="spacingAndGlyphs">50.00M</text>
<rect x="921" y="561.2" width="39" height="12.2" rx="3" fill="#555"/>
<text x="922.56" y="571.50" font-size="11" fill="#f4f4f4" textLength="35.25" lengthAdjust="spacingAndGlyphs">2.36M</text>
<circle cx="973.6" cy="490.4" r="6" fill="#333" stroke="#555" stroke-width="1"/>
<path d="M971.2 488L976 492.8M976 488L971.2 492.8" stroke="#ddd" stroke-width="1.3"/>
<text x="20.97" y="591.00" font-size="11" fill="#e8e8e8" textLength="14.23" lengthAdjust="spacingAndGlyphs">Jul</text>
<text x="87.80" y="591.00" font-size="11" fill="#e8e8e8" textLength="19.13" lengthAdjust="spacingAndGlyphs">Oct</text>
<text x="151.11" y="591.00" font-size="11" font-weight="bold" fill="#e8e8e8" textLength="33.37" lengthAdjust="spacingAndGlyphs">2020</text>
<text x="222.80" y="591.00" font-size="11" fill="#e8e8e8" textLength="20.33" lengthAdjust="spacingAndGlyphs">Apr</text>
<text x="294.89" y="591.00" font-size="11" fill="#e8e8e8" textLength="14.42" lengthAdjust="spacingAndGlyphs">Jul</text>
<text x="361.30" y="591.00" font-size="11" fill="#e8e8e8" textLength="18.53" lengthAdjust="spacingAndGlyphs">Oct</text>
<text x="425.36" y="591.00" font-size="11" font-weight="bold" fill="#e8e8e8" textLength="31.99" lengthAdjust="spacingAndGlyphs">2021</text>
<text x="496.40" y="591.00" font-size="11" fill="#e8e8e8" textLength="19.83" lengthAdjust="spacingAndGlyphs">Apr</text>
<text x="568.14" y="591.00" font-size="11" fill="#e8e8e8" textLength="13.75" lengthAdjust="spacingAndGlyphs">Jul</text>
<text x="634.30" y="591.00" font-size="11" fill="#e8e8e8" textLength="18.63" lengthAdjust="spacingAndGlyphs">Oct</text>
<text x="697.73" y="591.00" font-size="11" font-weight="bold" fill="#e8e8e8" textLength="32.73" lengthAdjust="spacingAndGlyphs">2022</text>
<text x="770.20" y="591.00" font-size="11" fill="#e8e8e8" textLength="19.83" lengthAdjust="spacingAndGlyphs">Apr</text>
<text x="839.96" y="591.00" font-size="11" fill="#e8e8e8" textLength="14.04" lengthAdjust="spacingAndGlyphs">Jul</text>
<text x="906.40" y="591.00" font-size="11" fill="#e8e8e8" textLength="18.63" lengthAdjust="spacingAndGlyphs">Oct</text>
</svg></body></html>
